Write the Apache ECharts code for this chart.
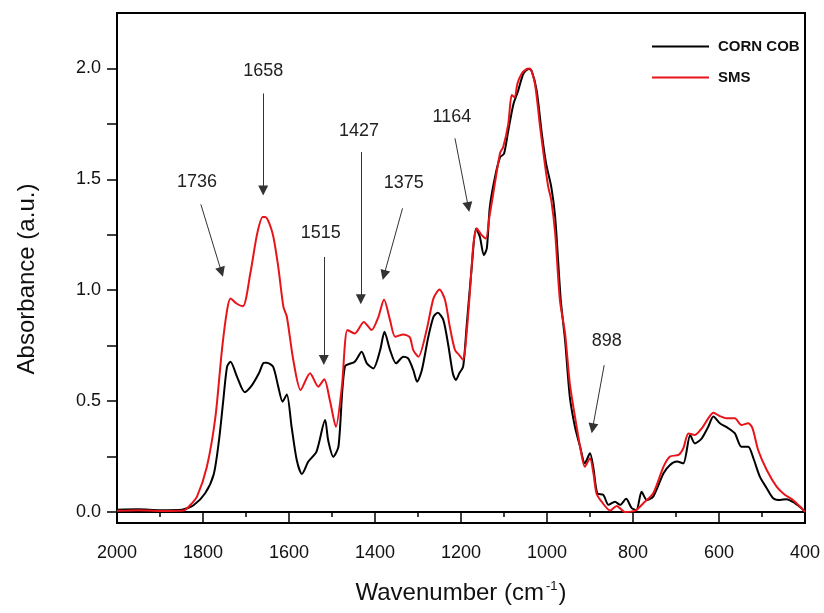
<!DOCTYPE html>
<html>
<head>
<meta charset="utf-8">
<script src="https://cdn.jsdelivr.net/npm/echarts@6/dist/echarts.min.js"></script>
<style>
  html, body { margin: 0; padding: 0; background: #fff; }
  #chart { width: 824px; height: 613px; }
</style>
</head>
<body>
<div id="chart"></div>
<script>
// spectra (wavenumber in cm-1, absorbance in a.u.)
const cornCobWavenumber = [
  2000, 1950, 1900, 1849, 1822, 1795, 1775, 1763, 1753, 1744, 1736, 1721, 1703, 1686, 1670, 1659,
  1652, 1637, 1625, 1615, 1605, 1594, 1582, 1570, 1555, 1536, 1516, 1509, 1497, 1485, 1470, 1447,
  1431, 1419, 1404, 1388, 1378, 1365, 1351, 1334, 1323, 1311, 1302, 1291, 1276, 1264, 1254, 1241,
  1229, 1219, 1212, 1204, 1195, 1187, 1175, 1165, 1156, 1147, 1140, 1133, 1121, 1109, 1100, 1090,
  1078, 1067, 1055, 1043, 1036, 1024, 1012, 1002, 990, 981, 968, 958, 947, 935, 923, 912,
  900, 892, 883, 869, 857, 842, 830, 816, 803, 792, 780, 768, 753, 729, 714, 698,
  683, 667, 656, 640, 625, 613, 598, 578, 563, 548, 532, 520, 505, 489, 474, 458,
  443, 423, 408, 400
];
const cornCobAbsorbance = [
  0.01, 0.012, 0.008, 0.01, 0.03, 0.084, 0.17, 0.32, 0.50, 0.655, 0.677, 0.61, 0.54, 0.572, 0.625, 0.672,
  0.673, 0.655, 0.565, 0.497, 0.53, 0.384, 0.234, 0.171, 0.227, 0.272, 0.414, 0.324, 0.249, 0.294, 0.655, 0.677,
  0.722, 0.67, 0.647, 0.73, 0.812, 0.73, 0.67, 0.70, 0.692, 0.64, 0.587, 0.64, 0.79, 0.88, 0.898, 0.865,
  0.745, 0.625, 0.595, 0.625, 0.655, 0.835, 1.105, 1.278, 1.24, 1.158, 1.188, 1.375, 1.51, 1.60, 1.615, 1.72,
  1.84, 1.90, 1.976, 1.998, 1.99, 1.90, 1.705, 1.57, 1.465, 1.33, 0.955, 0.775, 0.52, 0.384, 0.294, 0.219,
  0.264, 0.197, 0.084, 0.077, 0.032, 0.046, 0.032, 0.059, 0.017, 0.009, 0.091, 0.054, 0.069, 0.174, 0.212, 0.227,
  0.219, 0.347, 0.309, 0.332, 0.384, 0.43, 0.40, 0.377, 0.354, 0.294, 0.294, 0.242, 0.159, 0.107, 0.062, 0.054,
  0.057, 0.039, 0.017, 0.0
];
const smsWavenumber = [
  2000, 1950, 1900, 1845, 1830, 1814, 1791, 1771, 1756, 1744, 1736, 1722, 1707, 1690, 1674, 1661,
  1655, 1638, 1625, 1613, 1605, 1590, 1573, 1551, 1532, 1518, 1505, 1491, 1477, 1464, 1447, 1426,
  1408, 1392, 1379, 1365, 1353, 1334, 1319, 1311, 1299, 1280, 1264, 1250, 1237, 1226, 1214, 1204,
  1195, 1187, 1179, 1171, 1163, 1152, 1142, 1134, 1125, 1109, 1102, 1090, 1082, 1075, 1069, 1059,
  1047, 1040, 1028, 1016, 1005, 997, 990, 981, 970, 958, 947, 935, 923, 912, 900, 892,
  885, 873, 853, 838, 819, 795, 776, 753, 729, 714, 694, 683, 671, 656, 640, 625,
  613, 598, 583, 563, 548, 532, 522, 509, 489, 466, 447, 428, 408, 400
];
const smsAbsorbance = [
  0.005, 0.008, 0.004, 0.006, 0.03, 0.069, 0.204, 0.43, 0.73, 0.91, 0.963, 0.94, 0.928, 1.075, 1.255, 1.33,
  1.33, 1.255, 1.105, 0.925, 0.88, 0.685, 0.55, 0.625, 0.565, 0.598, 0.504, 0.384, 0.565, 0.82, 0.805, 0.857,
  0.82, 0.88, 0.958, 0.865, 0.79, 0.80, 0.787, 0.73, 0.70, 0.82, 0.963, 1.003, 0.955, 0.835, 0.73, 0.707,
  0.685, 0.805, 1.0, 1.21, 1.278, 1.248, 1.233, 1.33, 1.436, 1.62, 1.645, 1.75, 1.88, 1.87, 1.93, 1.976,
  1.998, 2.0, 1.93, 1.735, 1.57, 1.465, 1.405, 1.257, 0.955, 0.805, 0.58, 0.43, 0.294, 0.204, 0.242, 0.174,
  0.084, 0.046, 0.006, 0.027, 0.0, 0.006, 0.039, 0.084, 0.204, 0.25, 0.257, 0.287, 0.354, 0.347, 0.377, 0.422,
  0.447, 0.432, 0.422, 0.422, 0.392, 0.40, 0.377, 0.279, 0.189, 0.114, 0.077, 0.054, 0.017, 0.0
];

// axis ticks
const yTickValues = [0, 0.25, 0.5, 0.75, 1.0, 1.25, 1.5, 1.75, 2.0];
const yLabelValues = [0, 0.5, 1.0, 1.5, 2.0];

// peak annotations: label, text anchor, arrow start, arrow end (data coords)
const peakLabels = ['1736', '1658', '1515', '1427', '1375', '1164', '898'];
const peakTextAt = [[1814, 1.486], [1660, 1.988], [1526, 1.257], [1437, 1.716], [1333, 1.482], [1221, 1.779], [861, 0.772]];
const arrowFrom = [[1805, 1.387], [1660, 1.887], [1519, 1.15], [1433, 1.623], [1336, 1.369], [1214, 1.685], [867, 0.662]];
const arrowTo = [[1757, 1.082], [1660, 1.45], [1519, 0.685], [1433, 0.959], [1379, 1.068], [1183, 1.375], [894, 0.377]];

const FONT = '"Liberation Sans", Arial, sans-serif';

function zip(xs, ys) {
  return xs.map((x, i) => [x, ys[i]]);
}

const chart = echarts.init(document.getElementById('chart'), null, { renderer: 'canvas' });

const option = {
  animation: false,
  backgroundColor: '#fff',
  grid: {
    left: 117,
    right: 19,
    top: 13,
    bottom: 90,
    show: true,
    borderColor: '#000',
    borderWidth: 2,
  },
  legend: {
    data: ['CORN COB', 'SMS'],
    orient: 'vertical',
    left: 652,
    top: 39,
    padding: 0,
    icon: 'rect',
    itemWidth: 57,
    itemHeight: 2,
    itemGap: 16,
    textStyle: {
      fontFamily: FONT,
      fontWeight: 'bold',
      fontSize: 15,
      color: '#111',
      padding: [0, 0, 0, 4],
    },
  },
  xAxis: {
    type: 'value',
    inverse: true,
    min: 400,
    max: 2000,
    interval: 200,
    name: '{a|Wavenumber (cm}{s|-1}{a|)}',
    nameLocation: 'middle',
    nameGap: 57,
    nameTextStyle: {
      rich: {
        a: { fontFamily: FONT, fontSize: 24, color: '#111', lineHeight: 26 },
        s: { fontFamily: FONT, fontSize: 13, color: '#111', verticalAlign: 'top', lineHeight: 26, padding: [0, 1, 8, 2] },
      },
    },
    axisLine: { lineStyle: { color: '#000', width: 2 } },
    axisTick: { inside: false, length: 10, lineStyle: { color: '#000', width: 1.5 } },
    minorTick: { show: true, splitNumber: 2, length: 5, lineStyle: { color: '#000', width: 1.5 } },
    axisLabel: {
      fontFamily: FONT, fontSize: 18, color: '#111', margin: 21,
      formatter: (v) => String(v),
    },
    splitLine: { show: false },
  },
  yAxis: {
    type: 'value',
    min: -0.05,
    max: 2.25,
    name: 'Absorbance (a.u.)',
    nameLocation: 'middle',
    nameGap: 78,
    nameTextStyle: { fontFamily: FONT, fontSize: 24, color: '#111', padding: [0, 22, 0, 0] },
    axisLine: { lineStyle: { color: '#000', width: 2 } },
    axisTick: { inside: false, length: 10, customValues: yTickValues, lineStyle: { color: '#000', width: 1.5 } },
    axisLabel: {
      fontFamily: FONT, fontSize: 18, color: '#111', margin: 16,
      customValues: yLabelValues,
      formatter: (v) => v.toFixed(1),
    },
    splitLine: { show: false },
  },
  series: [
    {
      name: 'CORN COB',
      type: 'line',
      data: zip(cornCobWavenumber, cornCobAbsorbance),
      symbol: 'none',
      smooth: 0.25,
      lineStyle: { color: '#000', width: 2 },
      itemStyle: { color: '#000' },
      markLine: {
        silent: true,
        symbol: ['none', 'triangle'],
        symbolSize: 10,
        label: { show: false },
        lineStyle: { color: '#333', width: 1, type: 'solid' },
        data: arrowFrom.map((p, i) => [{ coord: p }, { coord: arrowTo[i] }]),
      },
      markPoint: {
        silent: true,
        symbol: 'circle',
        symbolSize: 0,
        label: {
          show: true,
          position: 'inside',
          fontFamily: FONT,
          fontSize: 18,
          color: '#222',
          formatter: (p) => p.name,
        },
        data: peakLabels.map((name, i) => ({ name, coord: peakTextAt[i] })),
      },
    },
    {
      name: 'SMS',
      type: 'line',
      data: zip(smsWavenumber, smsAbsorbance),
      symbol: 'none',
      smooth: 0.25,
      lineStyle: { color: '#e8141a', width: 2 },
      itemStyle: { color: '#e8141a' },
    },
  ],
};

chart.setOption(option);
</script>
</body>
</html>
